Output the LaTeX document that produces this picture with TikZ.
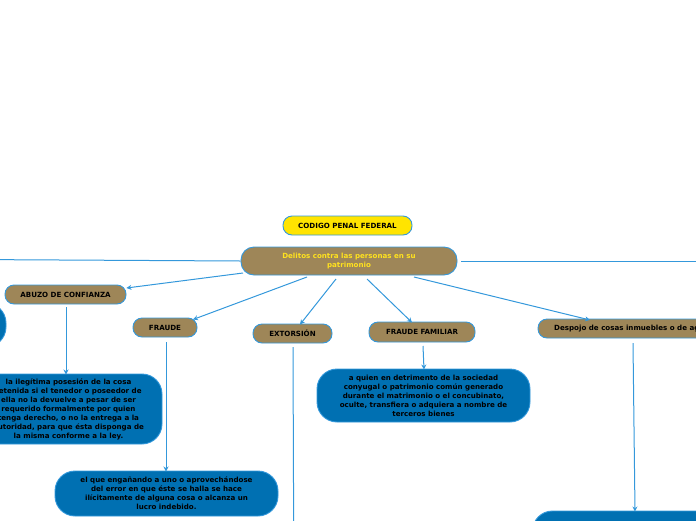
\documentclass[tikz,border=0pt]{standalone}
\usepackage{fontspec}
\setmainfont{DejaVu Sans}
\usetikzlibrary{arrows.meta}
\definecolor{brownbox}{RGB}{158,134,88}
\definecolor{bluebox}{RGB}{0,112,178}
\definecolor{edgeblue}{RGB}{52,152,219}
\definecolor{yellowbox}{RGB}{255,228,0}
\definecolor{titleyellow}{RGB}{255,226,30}
\tikzset{
  base/.style={draw=edgeblue, line width=0.9pt, inner sep=0pt, align=center,
    font=\bfseries\fontsize{7.1}{9}\selectfont},
  topic/.style={base, fill=brownbox, rounded corners=9pt, text=black},
  leaf/.style={base, fill=bluebox, rounded corners=20pt, text=black},
  codebox/.style={base, fill=yellowbox, rounded corners=9pt, text=black},
  conn/.style={draw=edgeblue, line width=1pt, -{Stealth[length=5pt,width=5pt]}},
  plain/.style={draw=edgeblue, line width=1pt},
}
\begin{document}
\begin{tikzpicture}[x=1pt,y=-1pt]
\useasboundingbox (0,0) rectangle (696,520);
\clip (0,0) rectangle (696,520);
\node[codebox, minimum width=129pt, minimum height=19pt] (code) at (347.5,225.5) {CODIGO PENAL FEDERAL};
\node[topic, minimum width=216pt, minimum height=28pt, rounded corners=13pt, text=titleyellow] (main) at (349,261) {Delitos contra las personas en su\\patrimonio};
\node[topic, minimum width=121pt, minimum height=19pt] (abuso) at (65.5,294.5) {ABUZO DE CONFIANZA};
\node[topic, minimum width=64pt, minimum height=19pt] (fraude) at (165,327.5) {FRAUDE};
\node[topic, minimum width=79pt, minimum height=19pt] (extor) at (292.5,333.5) {EXTORSIÓN};
\node[topic, minimum width=106pt, minimum height=20pt] (ffam) at (422,332) {FRAUDE FAMILIAR};
\node[topic, minimum width=222pt, minimum height=19pt] (despojo) at (649,328.5) {};
\node[anchor=west, inner sep=0pt, font=\bfseries\fontsize{7.1}{9}\selectfont] (despojotxt) at (554,328.5) {Despojo de cosas inmuebles o de aguas};
\node[leaf, minimum width=187pt, minimum height=70pt] (blueA) at (68.5,409) {la ilegítima posesión de la cosa\\retenida si el tenedor o poseedor de\\ella no la devuelve a pesar de ser\\requerido formalmente por quien\\tenga derecho, o no la entrega a la\\autoridad, para que ésta disponga de\\la misma conforme a la ley.};
\node[leaf, minimum width=223pt, minimum height=45pt] (blueF) at (166.5,493.5) {el que engañando a uno o aprovechándose\\del error en que éste se halla se hace\\ilícitamente de alguna cosa o alcanza un\\lucro indebido.};
\node[leaf, minimum width=213pt, minimum height=53pt] (blueFF) at (423.5,395.5) {a quien en detrimento de la sociedad\\conyugal o patrimonio común generado\\durante el matrimonio o el concubinato,\\oculte, transfiera o adquiera a nombre de\\terceros bienes};
\node[leaf, minimum width=227pt, minimum height=50pt] (blueD) at (646,536) {};
\node[leaf, minimum width=192pt, minimum height=44pt] (blueL) at (-90,325) {};
\coordinate (offL) at (-120,259);
\coordinate (offR) at (820,261);
\coordinate (offB) at (294,620);
\draw[conn] (main.west) -- (offL);
\draw[conn] ([xshift=4pt]main.east) -- (offR);
\draw[conn] (243,273) -- (abuso.east |- 0,288);
\draw[conn] (307,277) -- (193,319.5);
\draw[conn] (336,279) -- (300,324.5);
\draw[conn] (367,279) -- (412,322.5);
\draw[conn] (414,277) -- (590,320);
\draw[conn] (66,307) -- (66,374.5);
\draw[conn] (166,342) -- (166,471.5);
\draw[plain] (293,347) -- (offB);
\draw[conn] (423,346) -- (424,369.5);
\draw[conn] (633,343) -- (635,511.5);
\end{tikzpicture}
\end{document}
